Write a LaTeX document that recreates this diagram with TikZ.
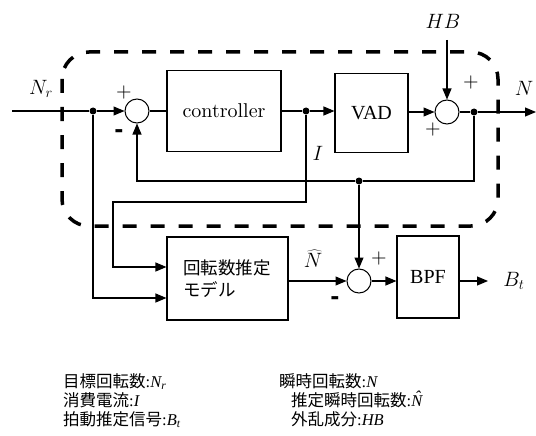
\documentclass[tikz,border=0pt]{standalone}
\usepackage{fontspec}
\newfontfamily\jp{Noto Sans CJK JP}
\newfontfamily\tms{Liberation Serif}
\newfontfamily\lmten{lmroman10-regular.otf}
\newfontfamily\djb{DejaVu Sans Bold}
\usetikzlibrary{arrows.meta}
\begin{document}
\begin{tikzpicture}[x=1pt,y=-1pt,
  wire/.style={line width=1.1pt},
  arr/.style={wire,-{Triangle[length=11pt,width=9pt]}},
  blk/.style={draw,line width=1.1pt,inner sep=0pt},
  sumc/.style={circle,draw,line width=1pt,minimum size=24pt,inner sep=0pt},
  jdot/.style={circle,fill,inner sep=0pt,minimum size=7pt},
  mlbl/.style={font=\fontsize{20.74}{20.74}\selectfont,inner sep=0pt},
  sgn/.style={font=\fontsize{20}{20}\selectfont\lmten,inner sep=0pt},
  msgn/.style={font=\fontsize{22}{22}\selectfont\djb,inner sep=0pt},
  leg/.style={font=\fontsize{16.5}{18}\selectfont\jp,anchor=west,inner sep=0pt,text height=12pt,text depth=2pt},
  border/.style={line width=3.5pt,dash pattern=on 14pt off 14pt,rounded corners=27pt}
]
\useasboundingbox (0,0) rectangle (536,436);

% dashed enclosure
\draw[border] (62,52) rectangle (498,226);

% blocks
\node[blk,minimum width=114pt,minimum height=81pt] (ctrl) at (224,111) {\lmten\fontsize{20}{20}\selectfont controller};
\node[blk,minimum width=73pt,minimum height=79pt] (vad) at (371.5,113) {\tms\fontsize{20}{20}\selectfont VAD};
\node[blk,minimum width=121pt,minimum height=83pt] (model) at (227.5,278.5) {};
\node[anchor=north west,inner sep=0pt,align=left,font=\fontsize{17.5}{22}\selectfont\jp] (modeltxt) at (183,260) {回転数推定\\モデル};
\node[blk,minimum width=62pt,minimum height=82pt] (bpf) at (428,277) {\tms\fontsize{20}{20}\selectfont BPF};

% summing junctions
\node[sumc] (s1) at (137,111) {};
\node[sumc] (s2) at (447,112) {};
\node[sumc] (s3) at (359,281) {};

% junction dots
\node[jdot] (dNr) at (93,111) {};
\node[jdot] (dI) at (306,111) {};
\node[jdot] (dN) at (474,112) {};
\node[jdot] (dFb) at (359,181) {};

% free ends
\coordinate (inNr) at (12,111);
\coordinate (topHB) at (447,40);
\coordinate (outN) at (536,112);
\coordinate (outBt) at (488,281);

% main path
\draw[wire] (inNr) -- (dNr);
\draw[arr] (dNr) -- (s1.west);
\draw[wire] (s1.east) -- (s1.east -| ctrl.west);
\draw[wire] (ctrl.east |- dI) -- (dI);
\draw[arr] (dI) -- (dI -| vad.west);
\draw[arr] (vad.east |- s2) -- (s2.west);
\draw[arr] (topHB) -- (s2.north);
\draw[wire] (s2.east) -- (dN);
\draw[arr] (dN) -- (outN);

% feedback
\draw[arr] (dN) |- (dFb) -| (s1.south);
\draw[arr] (dFb) -- (s3.north);

% current branch to model
\coordinate (c1) at (306,202);
\coordinate (c2) at (113,202);
\draw[arr] (dI) -- (c1) -- (c2) |- (model.west |- 0,267);
% reference branch to model
\draw[arr] (dNr) |- (model.west |- 0,298);

% model output
\draw[arr] (model.east |- s3) -- (s3.west);
\draw[arr] (s3.east) -- (bpf.west |- s3);
\draw[arr] (bpf.east |- s3) -- (outBt);

% signal labels
\node[mlbl] (lNr) at (41,89) {$N_r$};
\node[mlbl] (lHB) at (443,21) {$HB$};
\node[mlbl] (lN) at (524,88) {$N$};
\node[mlbl] (lI) at (318,153) {$I$};
\node[mlbl] (lNh) at (313,259) {$\widehat{N}$};
\node[mlbl] (lBt) at (514,281) {$B_t$};

% signs
\node[sgn] (p1) at (124,93) {+};
\node[msgn] (m1) at (119,134) {-};
\node[sgn] (p2) at (471,83) {+};
\node[sgn] (p3) at (433,130) {+};
\node[sgn] (p4) at (379,258) {+};
\node[msgn] (m3) at (335,301) {-};

% legend
\node[leg] (g1) at (63,382) {目標回転数{\tms:\itshape N\textsubscript{r}}};
\node[leg] (g2) at (63,401) {消費電流{\tms:\itshape I}};
\node[leg] (g3) at (63,420) {拍動推定信号{\tms:\itshape B\textsubscript{t}}};
\node[leg] (g4) at (279,382) {瞬時回転数{\tms:\itshape N}};
\node[leg] (g5) at (291,401) {推定瞬時回転数{\tms:\itshape \accent"02C6 N}};
\node[leg] (g6) at (291,420) {外乱成分{\tms:\itshape HB}};
\end{tikzpicture}
\end{document}
